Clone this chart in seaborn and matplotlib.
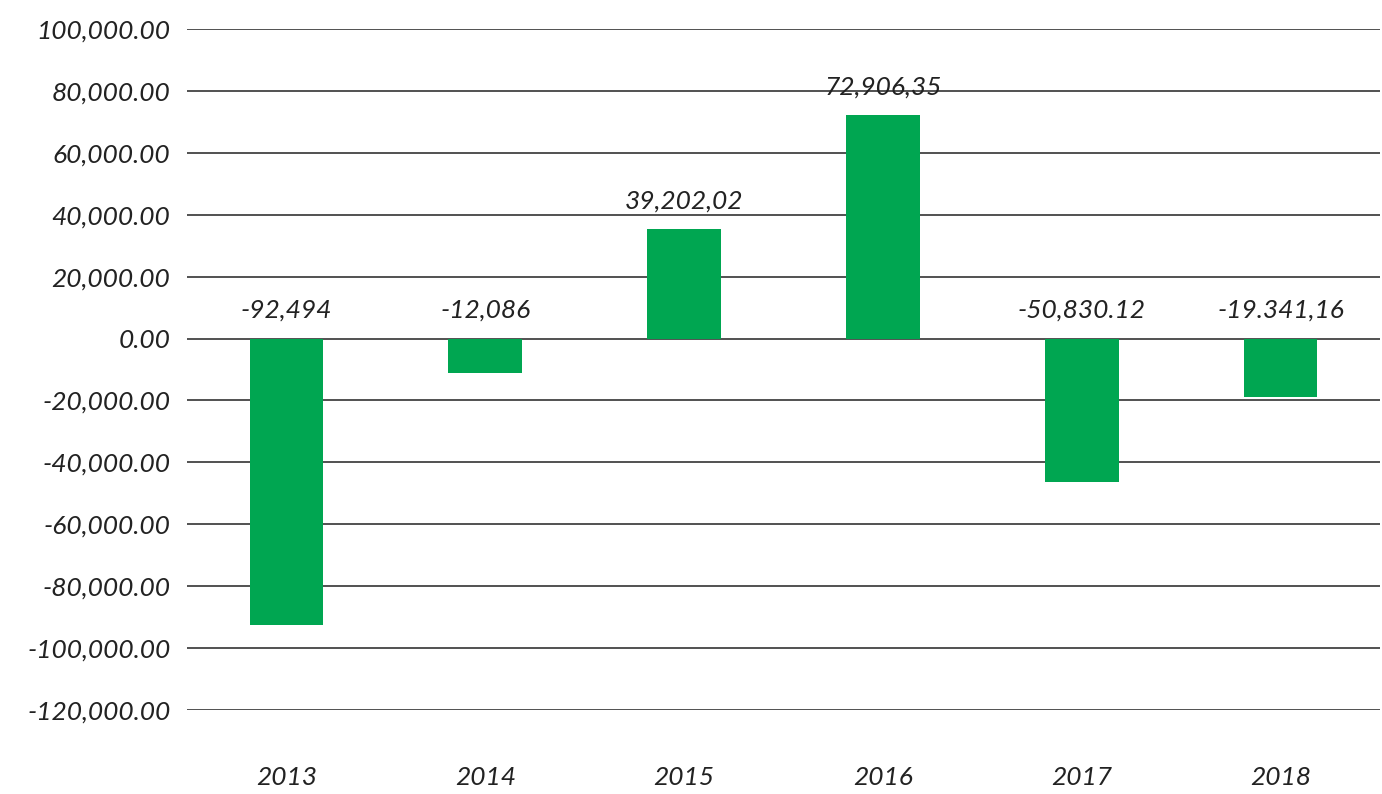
import matplotlib
matplotlib.use('Agg')
import matplotlib.pyplot as plt
import seaborn as sns
import pandas as pd

years = ['2013', '2014', '2015', '2016', '2017', '2018']
values = [-92494, -11000, 35400, 72300, -46500, -18800]
labels = ['-92,494', '-12,086', '39,202,02', '72,906,35', '-50,830.12', '-19.341,16']
yticks = [100000, 80000, 60000, 40000, 20000, 0, -20000, -40000, -60000, -80000, -100000, -120000]

sns.set_style('white')
plt.rcParams['font.family'] = ['Lato', 'DejaVu Sans']

df = pd.DataFrame({'year': years, 'value': values})

fig = plt.figure(figsize=(13.82, 7.94), dpi=100)
ax = fig.add_axes([187 / 1382, 1 - 710 / 794, (1380 - 187) / 1382, (710 - 29) / 794])

sns.barplot(data=df, x='year', y='value', color='#00a651', saturation=1, width=0.37,
            linewidth=0, ax=ax, zorder=3)

ax.set_ylim(-120000, 100000)
ax.set_yticks(yticks)
ax.set_yticklabels([f'{v:,.2f}' for v in yticks])
ax.grid(axis='y', color='#222222', linewidth=1.1, zorder=0)
ax.set_axisbelow(True)
for s in ax.spines.values():
    s.set_visible(False)

ax.set_xlabel('')
ax.set_ylabel('')
ax.tick_params(axis='y', length=0, pad=12, labelsize=19, labelcolor='#222222')
ax.tick_params(axis='x', length=0, pad=40, labelsize=19, labelcolor='#222222')
for t in ax.get_xticklabels() + ax.get_yticklabels():
    t.set_fontstyle('italic')

for i, (v, lab) in enumerate(zip(values, labels)):
    y = max(v, 0)
    ax.annotate(lab, (i, y), xytext=(0, 12), textcoords='offset points',
                ha='center', va='bottom', fontsize=19, fontstyle='italic', color='#222222')

fig.savefig('out.png', dpi=100)
